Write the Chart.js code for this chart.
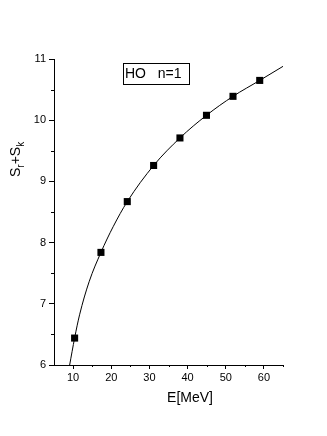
<!DOCTYPE html>
<html>
<head>
    <meta charset="UTF-8">
    <script src="https://cdn.jsdelivr.net/npm/chart.js"></script>
    <style>
        html, body { margin: 0; padding: 0; background: #fff; }
        #wrap { width: 327px; height: 436px; }
    </style>
</head>
<body>
    <div id="wrap"><canvas id="chart"></canvas></div>
    <script>
        // measured points (squares)
        const energy = [10.4, 17.3, 24.2, 31.1, 38.0, 44.95, 51.9, 58.9];
        const entropy = [6.44, 7.84, 8.67, 9.26, 9.71, 10.08, 10.39, 10.65];
        // fitted curve
        const fitE = [9.1, 10.4, 11.7, 14.2, 17.3, 20.5, 24.2, 31.1, 38.0, 44.95, 51.9, 58.9, 65.0];
        const fitS = [6.0, 6.44, 6.82, 7.36, 7.84, 8.26, 8.67, 9.26, 9.71, 10.08, 10.39, 10.65, 10.88];
        const xTicks = [10, 20, 30, 40, 50, 60];
        const xMinorTicks = [15, 25, 35, 45, 55, 65];
        const yTicks = [6, 7, 8, 9, 10, 11];
        const yMinorTicks = [6.5, 7.5, 8.5, 9.5, 10.5];
        const boxLabel = 'HO   n=1';

        const FONT = '"Liberation Sans", Arial, sans-serif';

        const extras = {
            id: 'extras',
            afterDraw(chart) {
                const c = chart.ctx;
                const xs = chart.scales.x, ys = chart.scales.y;
                c.save();
                c.strokeStyle = '#000';
                c.lineWidth = 1;
                // minor ticks
                c.beginPath();
                xMinorTicks.forEach(v => {
                    const px = Math.round(xs.getPixelForValue(v)) + 0.5;
                    c.moveTo(px, ys.bottom);
                    c.lineTo(px, ys.bottom + 2);
                });
                yMinorTicks.forEach(v => {
                    const py = Math.round(ys.getPixelForValue(v)) + 0.5;
                    c.moveTo(xs.left - 3, py);
                    c.lineTo(xs.left, py);
                });
                c.stroke();

                // x title
                c.fillStyle = '#000';
                c.font = '14px ' + FONT;
                c.textAlign = 'center';
                c.textBaseline = 'middle';
                c.fillText('E[MeV]', 190, 398);

                // y title with subscripts, rotated
                c.translate(20, 177);
                c.rotate(-Math.PI / 2);
                c.textAlign = 'left';
                c.textBaseline = 'alphabetic';
                let pos = 0;
                const part = (t, size, dy) => {
                    c.font = size + 'px ' + FONT;
                    c.fillText(t, pos, dy);
                    pos += c.measureText(t).width;
                };
                part('S', 14, 0);
                part('r', 10, 4);
                part('+', 14, 0);
                part('S', 14, 0);
                part('k', 10, 4);
                c.restore();

                // label box
                c.save();
                c.strokeStyle = '#000';
                c.lineWidth = 1;
                c.strokeRect(123.5, 63.5, 66, 21);
                c.fillStyle = '#000';
                c.font = '14px ' + FONT;
                c.textBaseline = 'middle';
                c.fillText(boxLabel, 125, 74.5);
                c.restore();
            }
        };

        new Chart(document.getElementById('chart'), {
            type: 'scatter',
            data: {
                datasets: [{
                    type: 'line',
                    data: fitE.map((e, i) => ({ x: e, y: fitS[i] })),
                    borderColor: '#000',
                    borderWidth: 1,
                    pointRadius: 0,
                    fill: false,
                    cubicInterpolationMode: 'monotone'
                }, {
                    data: energy.map((e, i) => ({ x: e, y: entropy[i] })),
                    pointStyle: 'rect',
                    pointRadius: 5,
                    backgroundColor: '#000',
                    borderColor: '#000',
                    borderWidth: 0
                }]
            },
            options: {
                responsive: true,
                maintainAspectRatio: false,
                animation: false,
                layout: { padding: { left: 0, top: 59, right: 44, bottom: 0 } },
                plugins: { legend: { display: false }, tooltip: { enabled: false } },
                scales: {
                    x: {
                        type: 'linear',
                        min: 5,
                        max: 65,
                        afterBuildTicks: s => { s.ticks = xTicks.map(v => ({ value: v })); },
                        afterFit: s => { s.height = 71; },
                        grid: { drawOnChartArea: false, drawTicks: true, tickLength: 4, color: '#000' },
                        border: { color: '#000', width: 1 },
                        ticks: { color: '#000', font: { family: FONT, size: 11 }, padding: 2, maxRotation: 0 }
                    },
                    y: {
                        min: 6,
                        max: 11,
                        afterBuildTicks: s => { s.ticks = yTicks.map(v => ({ value: v })); },
                        afterFit: s => { s.width = 54; },
                        grid: { drawOnChartArea: false, drawTicks: true, tickLength: 5, color: '#000' },
                        border: { color: '#000', width: 1 },
                        ticks: { color: '#000', font: { family: FONT, size: 11 }, padding: 3 }
                    }
                }
            },
            plugins: [extras]
        });
    </script>
</body>
</html>
